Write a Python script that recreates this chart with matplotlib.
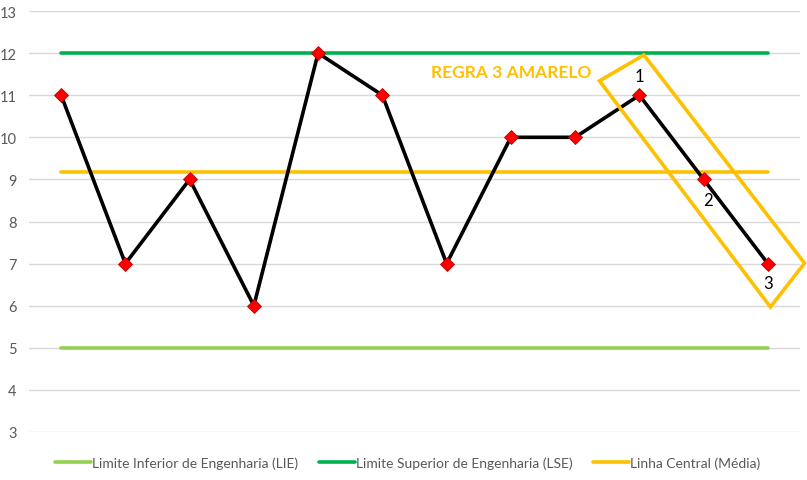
import matplotlib
matplotlib.use("Agg")
import matplotlib.pyplot as plt
from matplotlib.patches import Polygon
import numpy as np

plt.rcParams['font.family'] = ['Lato', 'DejaVu Sans']

values = [11, 7, 9, 6, 12, 11, 7, 10, 10, 11, 9, 7]
lie_value = 5
lse_value = 12
yticks = [3, 4, 5, 6, 7, 8, 9, 10, 11, 12, 13]
rule_labels = ["1", "2", "3"]
rule_idx = [9, 10, 11]
# rotated box corners (data coords)
box_x = [9.07, 11.57, 11.04, 8.38]
box_y = [11.955, 7.01, 5.97, 11.34]

x = np.arange(len(values))
mean = np.mean(values)

fig = plt.figure(figsize=(8.07, 4.81), dpi=100)
ax = fig.add_axes([29/807, 48/481, 771/807, 421/481])

ax.set_xlim(-0.5, len(values) - 0.5)
ax.set_ylim(3, 13)
ax.set_yticks(yticks)
ax.set_xticks([])
for s in ax.spines.values():
    s.set_visible(False)
ax.grid(axis='y', color='#d9d9d9', linewidth=1)
ax.set_axisbelow(True)
ax.tick_params(axis='y', length=0, pad=9, labelsize=10.5, labelcolor='#595959')

l1, = ax.plot(x, [lie_value]*len(x), color='#92D050', lw=2.6, solid_capstyle='round',
              label='Limite Inferior de Engenharia (LIE)')
l2, = ax.plot(x, [lse_value]*len(x), color='#00B050', lw=2.6, solid_capstyle='round',
              label='Limite Superior de Engenharia (LSE)')
l3, = ax.plot(x, [mean]*len(x), color='#FFC000', lw=2.6, solid_capstyle='round',
              label='Linha Central (Média)')
ax.plot(x, values, color='black', lw=2.6, zorder=4)
ax.plot(x, values, linestyle='none', marker='D', markersize=7,
        markerfacecolor='#FF0000', markeredgecolor='#C00000', markeredgewidth=0.6, zorder=5)

poly = Polygon(list(zip(box_x, box_y)), closed=True, fill=False,
               edgecolor='#FFC000', lw=2.6, clip_on=False, zorder=6)
ax.add_patch(poly)

offsets = [0.45, -0.5, -0.45]
xoffs = [0.0, 0.07, 0.0]
for lab, i, dy, dx in zip(rule_labels, rule_idx, offsets, xoffs):
    ax.text(i + dx, values[i] + dy, lab, ha='center', va='center', fontsize=12, color='black', zorder=7)

ax.text(7.0, 11.54, 'REGRA 3 AMARELO', ha='center', va='center', fontsize=12.5,
        fontweight='bold', color='#FFC000', zorder=7)

fig.legend(handles=[l1, l2, l3], loc='center', bbox_to_anchor=(0.505, 1 - 464/481),
           ncol=3, frameon=False, fontsize=10, labelcolor='#595959',
           handlelength=2.6, handletextpad=0.05, columnspacing=1.5)

fig.savefig('out.png', dpi=100)
